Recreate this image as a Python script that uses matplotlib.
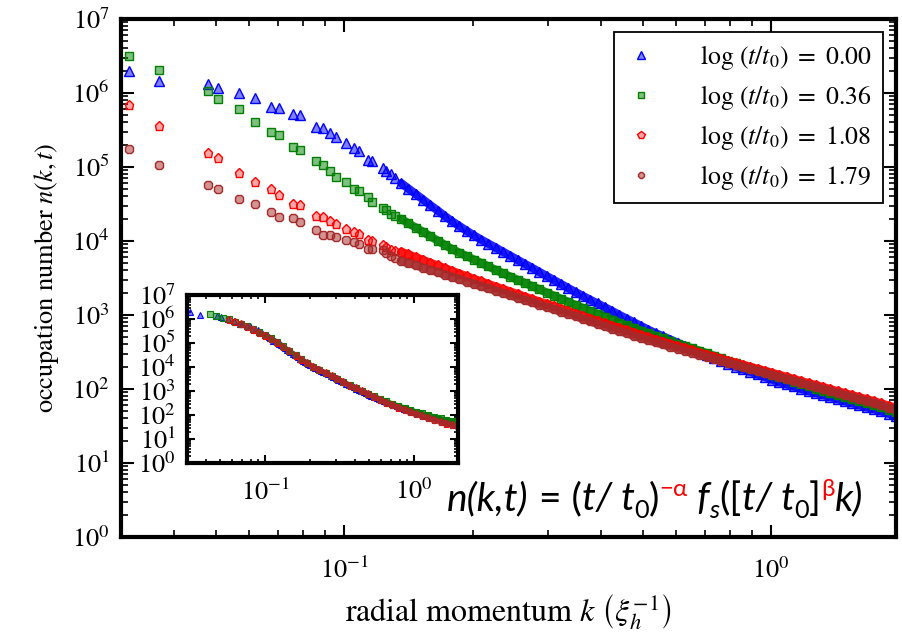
import matplotlib
matplotlib.use("Agg")
import matplotlib.pyplot as plt
from matplotlib.ticker import LogLocator, NullFormatter

plt.rcParams['font.family'] = 'STIXGeneral'
plt.rcParams['mathtext.fontset'] = 'stix'

# radial momentum grid of the main panel (same for every time)
k_main = [0.0314, 0.0369, 0.0480, 0.0506, 0.0566, 0.0617, 0.0675, 0.0702, 0.0759, 0.0789,
          0.0860, 0.0892, 0.0924, 0.0955, 0.1007, 0.1057, 0.1082, 0.1136, 0.1161, 0.1233,
          0.1254, 0.1284, 0.1312,
          0.136, 0.1414, 0.1471, 0.153, 0.1591, 0.1655, 0.1721, 0.179, 0.1861, 0.1936,
          0.2013, 0.2094, 0.2177, 0.2265, 0.2355, 0.2449, 0.2547, 0.2649, 0.2755, 0.2865,
          0.298, 0.3099, 0.3223, 0.3352, 0.3486, 0.3625, 0.377, 0.3921, 0.4078, 0.4241,
          0.4411, 0.4587, 0.4771, 0.4961, 0.516, 0.5366, 0.5581, 0.5804, 0.6036, 0.6278,
          0.6529, 0.679, 0.7062, 0.7344, 0.7638, 0.7943, 0.8261, 0.8592, 0.8935, 0.9293,
          0.9664, 1.005, 1.045, 1.087, 1.131, 1.176, 1.223, 1.272, 1.323, 1.376,
          1.431, 1.488, 1.547, 1.609, 1.674, 1.741, 1.81, 1.883, 1.958]

# occupation number n(k,t) for log(t/t0) = 0.00, 0.36, 1.08, 1.79
n_000 = [1.96e6, 1.47e6, 1.34e6, 1.17e6, 1.0e6, 8.6e5, 6.45e5, 6.3e5, 5.13e5, 4.97e5,
         3.46e5, 3.39e5, 2.91e5, 2.57e5, 2.09e5, 1.83e5, 1.65e5, 1.25e5, 1.21e5, 9.55e4,
         8.9e4, 8.0e4, 7.2e4,
         6.05e4, 5.10e4, 4.31e4, 3.63e4, 3.05e4, 2.58e4, 2.17e4, 1.84e4, 1.59e4, 1.37e4,
         1.19e4, 1.04e4, 9.2e3, 8.1e3, 7.15e3, 6.31e3, 5.56e3, 4.90e3, 4.33e3, 3.81e3,
         3.36e3, 2.96e3, 2.61e3, 2.30e3, 2.03e3, 1.80e3, 1.60e3, 1.43e3, 1.27e3, 1.13e3,
         1.00e3, 892, 794, 708, 630, 566, 513, 465, 421, 381,
         345, 313, 284, 260, 238, 218, 201, 185, 171, 157,
         146, 134, 124, 116, 108, 100, 94, 88, 83, 77.8,
         72.9, 68.5, 64.4, 60.4, 56.8, 53.3, 49.9, 46.6, 43.6]
n_036 = [3.18e6, 2.07e6, 1.05e6, 8.4e5, 6.1e5, 4.04e5, 2.96e5, 2.73e5, 1.88e5, 1.70e5,
         1.21e5, 1.07e5, 8.7e4, 7.4e4, 6.2e4, 5.0e4, 4.7e4, 3.9e4, 3.4e4, 2.8e4,
         2.65e4, 2.32e4, 2.16e4,
         1.99e4, 1.73e4, 1.52e4, 1.33e4, 1.16e4, 1.01e4, 8.85e3, 7.74e3, 6.95e3, 6.24e3,
         5.61e3, 5.04e3, 4.52e3, 4.06e3, 3.65e3, 3.30e3, 2.99e3, 2.71e3, 2.45e3, 2.22e3,
         2.01e3, 1.82e3, 1.65e3, 1.50e3, 1.36e3, 1.24e3, 1.13e3, 1.03e3, 946, 863,
         789, 721, 665, 612, 565, 521, 481, 444, 409, 381,
         355, 330, 305, 282, 259, 240, 223, 207, 193, 180,
         167, 156, 145, 135, 126, 117, 109, 101, 94.2, 88.1,
         82.6, 77.6, 72.9, 68.4, 64.3, 60.4, 56.5, 52.7, 49.3]
n_108 = [6.8e5, 3.57e5, 1.53e5, 1.32e5, 8.3e4, 6.2e4, 5.0e4, 4.2e4, 3.2e4, 3.1e4,
         2.2e4, 2.09e4, 1.89e4, 1.67e4, 1.46e4, 1.32e4, 1.25e4, 1.04e4, 9.9e3, 8.7e3,
         8.3e3, 7.6e3, 7.3e3,
         7.16e3, 6.58e3, 6.04e3, 5.53e3, 5.08e3, 4.67e3, 4.29e3, 3.94e3, 3.62e3, 3.34e3,
         3.08e3, 2.84e3, 2.62e3, 2.42e3, 2.24e3, 2.07e3, 1.92e3, 1.77e3, 1.64e3, 1.52e3,
         1.41e3, 1.31e3, 1.21e3, 1.12e3, 1.04e3, 964, 893, 826, 767, 714,
         664, 618, 575, 535, 498, 465, 435, 406, 379, 355,
         332, 310, 290, 273, 256, 240, 226, 212, 199, 187,
         176, 165, 155, 146, 136, 128, 120, 113, 106, 99.5,
         93.3, 87.7, 82.4, 77.3, 72.6, 68.2, 63.8, 59.7, 55.8]
n_179 = [1.77e5, 1.06e5, 5.75e4, 5.1e4, 3.7e4, 3.16e4, 2.5e4, 2.09e4, 2.03e4, 1.83e4,
         1.41e4, 1.21e4, 1.22e4, 1.13e4, 1.02e4, 9.7e3, 9.0e3, 7.9e3, 7.7e3, 7.5e3,
         6.8e3, 6.2e3, 5.8e3,
         5.42e3, 5.04e3, 4.69e3, 4.37e3, 4.06e3, 3.78e3, 3.52e3, 3.27e3, 3.05e3, 2.83e3,
         2.64e3, 2.45e3, 2.28e3, 2.13e3, 1.98e3, 1.84e3, 1.71e3, 1.59e3, 1.48e3, 1.38e3,
         1.28e3, 1.19e3, 1.11e3, 1.03e3, 962, 887, 818, 753, 700, 650,
         605, 564, 525, 488, 454, 425, 399, 374, 352, 330,
         310, 291, 273, 256, 241, 226, 212, 200, 187, 176,
         165, 155, 146, 137, 128, 121, 113, 106, 99.8, 93.5,
         87.9, 82.4, 77.4, 72.6, 68.2, 64.1, 60.0, 56.1, 52.5]

# inset: rescaled data (blue is the unscaled log(t/t0)=0 series)
k_inset = [0.043, 0.047, 0.052, 0.057, 0.063, 0.069, 0.076, 0.083, 0.091, 0.10,
           0.11, 0.12, 0.132, 0.145, 0.16, 0.175, 0.19, 0.21, 0.23, 0.255,
           0.28, 0.305, 0.335, 0.37, 0.405, 0.445, 0.49, 0.54, 0.59, 0.65,
           0.71, 0.78, 0.86, 0.94, 1.03, 1.13, 1.24, 1.36, 1.5, 1.64,
           1.8, 1.95]
n_inset_036 = [1.6e6, 1.3e6, 1.1e6, 9.8e5, 7.9e5, 6.3e5, 5.1e5, 3.8e5, 2.8e5, 2.1e5,
               1.6e5, 1.1e5, 7.2e4, 4.8e4, 3.2e4, 2.1e4, 1.5e4, 1.05e4, 7.8e3, 5.6e3,
               4.3e3, 3.2e3, 2.4e3, 1.8e3, 1.35e3, 1.0e3, 780, 600, 470, 370,
               300, 245, 200, 166, 138, 117, 100, 85, 72, 63,
               55, 49]
n_inset_108 = [9.3e5, 7.6e5, 6.0e5, 4.8e5, 3.6e5, 2.7e5, 2.0e5, 1.5e5, 1.05e5, 6.9e4,
               4.6e4, 3.0e4, 2.0e4, 1.45e4, 1.0e4, 7.6e3, 5.5e3, 4.2e3, 3.2e3, 2.3e3,
               1.7e3, 1.3e3, 980, 720, 550, 420, 320, 260, 205, 160,
               130, 107, 89, 74, 62, 51, 44, 37, 32]
n_inset_179 = [6.2e5, 4.9e5, 3.7e5, 2.75e5, 2.1e5, 1.55e5, 1.07e5, 7.1e4,
               4.7e4, 3.1e4, 2.1e4, 1.45e4, 1.0e4, 7.6e3, 5.5e3, 4.2e3, 3.2e3, 2.3e3,
               1.7e3, 1.3e3, 980, 740, 560, 430, 330, 260, 210, 166,
               135, 110, 91, 76, 63, 52, 45, 38, 33]

log_times = ['0.00', '0.36', '1.08', '1.79']
colors = ['blue', 'green', 'red', 'brown']
face = [(0, 0, 1, 0.5), (0, 0.5, 0, 0.5), (1, 0, 0, 0.35), (0.65, 0.16, 0.16, 0.5)]
markers = ['^', 's', 'p', '8']
sizes = [6.5, 5.5, 6.5, 6.0]


def style_axes(a, xpad):
    for s in a.spines.values():
        s.set_linewidth(3)
    a.tick_params(which='both', direction='in', top=True, right=True, labelsize=19)
    a.tick_params(which='major', length=9, width=1.5, pad=8)
    a.tick_params(which='minor', length=5, width=1.2)
    a.tick_params(axis='x', which='major', pad=xpad)
    a.yaxis.set_major_locator(LogLocator(base=10, numticks=20))
    a.yaxis.set_minor_locator(LogLocator(base=10, subs=range(2, 10), numticks=100))
    a.yaxis.set_minor_formatter(NullFormatter())
    a.xaxis.set_minor_formatter(NullFormatter())


def add_formula(a, parts, x, y, size):
    prev = None
    for txt, color, style, dy, scale in parts:
        kw = dict(fontsize=size * scale, color=color, family=['Lato', 'DejaVu Sans'],
                  style=style, va='baseline', ha='left')
        if prev is None:
            prev = a.text(x, y, txt, transform=a.transAxes, **kw)
        else:
            prev = a.annotate(txt, xy=(1, y), xycoords=(prev, 'axes fraction'),
                              xytext=(0, dy), textcoords='offset points', **kw)


fig = plt.figure(figsize=(9.02, 6.36), dpi=100)
ax = fig.add_axes([0.1341, 0.1557, 0.8592, 0.8145])

# the dense part of each spectrum is drawn as a continuous band under the markers
dense = 23
main_series = [n_000, n_036, n_108, n_179]
for n, c, fc, m, ms, lt in zip(main_series, colors, face, markers, sizes, log_times):
    ax.plot(k_main[dense:], n[dense:], ls='-', lw=6, color=c, alpha=0.85,
            solid_capstyle='round')
    ax.plot(k_main, n, ls='none', marker=m, ms=ms, mec=c, mfc=fc, mew=1.0,
            label=r'$\log\,(t/t_0)\ =\ %s$' % lt)

ax.set_xscale('log')
ax.set_yscale('log')
ax.set_xlim(0.03, 1.96)
ax.set_ylim(1, 1e7)
style_axes(ax, 15)
ax.set_xlabel(r'radial momentum $k\ \left(\xi_h^{-1}\right)$', fontsize=23, labelpad=6)
ax.set_ylabel(r'occupation number $n(k,t)$', fontsize=19, labelpad=8)

leg = ax.legend(loc='upper right', fontsize=18.5, numpoints=1, fancybox=False,
                edgecolor='black', framealpha=1, borderaxespad=0.5, borderpad=0.45,
                labelspacing=0.42, handlelength=1.2, handletextpad=1.7, markerscale=0.85)
leg.get_frame().set_linewidth(1.3)

formula = [
    ("n(k,t)", 'black', 'italic', 0, 1),
    (" = (", 'black', 'normal', 0, 1),
    ("t/ t", 'black', 'italic', 0, 1),
    ("0", 'black', 'normal', -6, 0.65),
    (")", 'black', 'normal', 0, 1),
    ("\u2212\u03b1", 'red', 'normal', 10, 0.62),
    (" f", 'black', 'italic', 0, 1),
    ("s", 'black', 'italic', -6, 0.65),
    ("([", 'black', 'normal', 0, 1),
    ("t/ t", 'black', 'italic', 0, 1),
    ("0", 'black', 'normal', -6, 0.65),
    ("]", 'black', 'normal', 0, 1),
    ("\u03b2", 'red', 'normal', 10, 0.62),
    ("k)", 'black', 'italic', 0, 1),
]
add_formula(ax, formula, 0.421, 0.052, 28)

# inset with the rescaled (collapsed) distributions
axin = fig.add_axes([0.2073, 0.272, 0.3004, 0.264])
inset_data = [(k_main, n_000), (k_inset, n_inset_036),
              (k_inset[3:], n_inset_108), (k_inset[5:], n_inset_179)]
inset_band = [dense, 8, 13, 11]
inset_sizes = [4.0, 3.8, 5.2, 4.8]
for (kk, n), c, fc, m, ms, b in zip(inset_data, colors, face, markers, inset_sizes, inset_band):
    axin.plot(kk[b:], n[b:], ls='-', lw=3.5, color=c, alpha=0.85, solid_capstyle='round')
    axin.plot(kk, n, ls='none', marker=m, ms=ms, mec=c, mfc=fc, mew=0.8)
axin.set_xscale('log')
axin.set_yscale('log')
axin.set_xlim(0.03, 1.96)
axin.set_ylim(1, 1e7)
style_axes(axin, 12)
axin.tick_params(which='major', length=6)
axin.tick_params(which='minor', length=3)
axin.set_yticks([10.0 ** p for p in range(8)])

fig.savefig('out.png', dpi=100)
